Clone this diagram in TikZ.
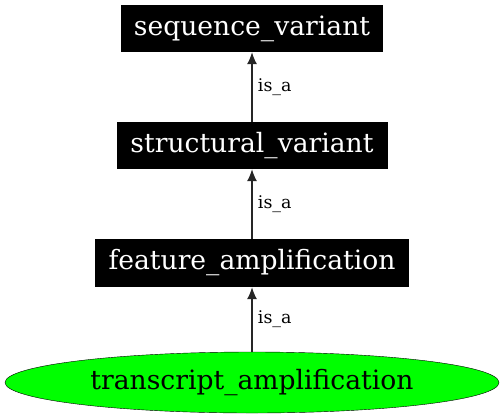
\documentclass[tikz,border=0pt]{standalone}
\usepackage{fontspec}
\setmainfont{DejaVu Serif}
\usetikzlibrary{arrows.meta,positioning,shapes.geometric}
\tikzset{
  term/.style   ={fill=black,text=white,inner sep=0pt,minimum height=47bp,font=\fontsize{26.7}{31}\selectfont},
  leaf/.style   ={ellipse,draw=black,fill=green,inner sep=0pt,font=\fontsize{26.7}{31}\selectfont},
  isa/.style    ={-{Latex[length=12bp,width=10bp]},line width=1.2bp,black!85},
  lbl/.style    ={font=\fontsize{17.5}{20}\selectfont,text=black},
}
\begin{document}
\begin{tikzpicture}[x=1bp,y=1bp]
  \useasboundingbox (0,0) rectangle (504,419);
  % ontology terms
  \node[term,minimum width=262bp] (SV) at (252,390.5) {sequence\_variant};
  \node[term,minimum width=271bp] (StV) at (252,273.5) {structural\_variant};
  \node[term,minimum width=314bp,minimum height=48bp] (FA) at (252,156) {feature\_amplification};
  % the term itself
  \node[leaf,minimum width=494bp,minimum height=61bp] (TA) at (252,36.5) {transcript\_amplification};
  % is_a edges
  \draw[isa] (TA.north) -- (FA.south) node[lbl,midway,right=2bp] (L1) {is\_a};
  \draw[isa] (FA.north) -- (StV.south) node[lbl,midway,right=2bp] (L2) {is\_a};
  \draw[isa] (StV.north) -- (SV.south) node[lbl,midway,right=2bp] (L3) {is\_a};
\end{tikzpicture}
\end{document}
